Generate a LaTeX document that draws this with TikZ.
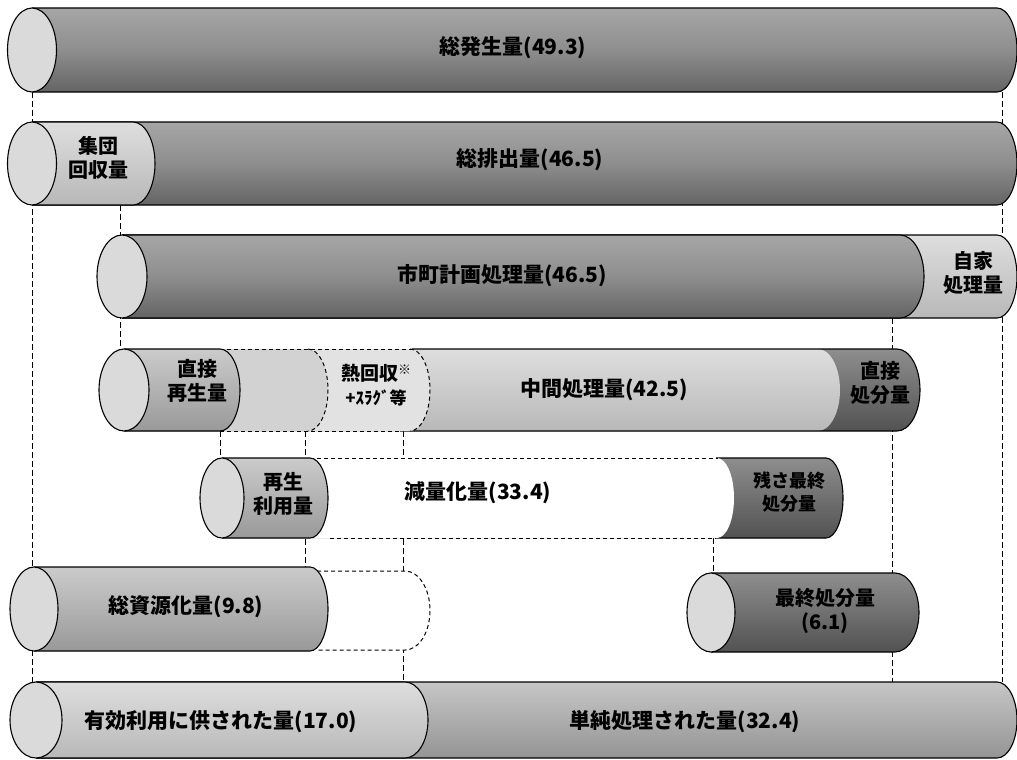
\documentclass[tikz,border=0pt]{standalone}
\usepackage{fontspec}
\setmainfont{Noto Sans CJK JP}
\definecolor{dkT}{HTML}{A6A6A6}
\definecolor{dkM}{HTML}{8E8E8E}
\definecolor{dkB}{HTML}{646464}
\definecolor{vdT}{HTML}{8E8E8E}
\definecolor{vdB}{HTML}{525252}
\definecolor{ltT}{HTML}{DEDEDE}
\definecolor{ltB}{HTML}{B8B8B8}
\definecolor{mdT}{HTML}{CBCBCB}
\definecolor{mdB}{HTML}{999999}
\definecolor{smT}{HTML}{C6C6C6}
\definecolor{smB}{HTML}{949494}
\definecolor{capC}{HTML}{DADADA}
\definecolor{dshC}{HTML}{D2D2D2}
\definecolor{heatC}{HTML}{E2E2E2}
\tikzset{
  outl/.style={draw=black, line width=1.1pt},
  dashl/.style={draw=black, line width=1pt, dash pattern=on 4pt off 3pt},
  guide/.style={draw=black, line width=1pt, dash pattern=on 6pt off 3pt},
  darkfill/.style={top color=dkT, bottom color=dkB, middle color=dkM},
  vdarkfill/.style={top color=vdT, bottom color=vdB},
  lightfill/.style={top color=ltT, bottom color=ltB},
  medfill/.style={top color=mdT, bottom color=mdB},
  simplefill/.style={top color=smT, bottom color=smB},
  capfill/.style={fill=capC, draw=black, line width=1.1pt},
  lbl/.style={font=\fontsize{21}{25}\selectfont\bfseries, inner sep=0pt},
  lbltwo/.style={font=\fontsize{20}{24}\selectfont\bfseries, align=center, inner sep=0pt},
}
% segment fill: #1 style, #2 xL, #3 xR, #4 top, #5 bottom, #6 cap x radius
\newcommand\cylfill[6]{%
  \pgfmathsetmacro\cylry{(#5-#4)/2}%
  \path[#1] (#2,#4) -- (#3,#4) arc[start angle=90,end angle=-90,x radius=#6pt,y radius=\cylry pt] -- (#2,#5) -- cycle;}
% segment outline: #1 style, #2 xL, #3 xR, #4 top, #5 bottom, #6 cap x radius
\newcommand\cylrim[6]{%
  \pgfmathsetmacro\cylry{(#5-#4)/2}%
  \draw[#1] (#2,#4) -- (#3,#4) arc[start angle=90,end angle=-90,x radius=#6pt,y radius=\cylry pt] -- (#2,#5);}
% cap arc only
\newcommand\cylarc[5]{%
  \pgfmathsetmacro\cylry{(#4-#3)/2}%
  \draw[#1] (#2,#3) arc[start angle=90,end angle=-90,x radius=#5pt,y radius=\cylry pt];}
\begin{document}
\begin{tikzpicture}[x=1pt,y=-1pt]
\useasboundingbox (0,0) rectangle (1017,760);
\fill[white] (0,0) rectangle (1017,760);

% ---- dashed guide lines (behind) ----
\coordinate (gA1) at (32,92);   \coordinate (gA2) at (32,682);
\coordinate (gB1) at (1002,92); \coordinate (gB2) at (1002,682);
\coordinate (gC1) at (120,205); \coordinate (gC2) at (120,349);
\coordinate (gD1) at (892,318); \coordinate (gD2) at (892,682);
\coordinate (gE1) at (220,431); \coordinate (gE2) at (220,458);
\coordinate (gF1) at (305,431); \coordinate (gF2) at (305,569);
\coordinate (gG1) at (403,431); \coordinate (gG2) at (403,682);
\coordinate (gH1) at (713,538); \coordinate (gH2) at (713,573);
\foreach \a/\b in {gA1/gA2,gB1/gB2,gC1/gC2,gD1/gD2,gE1/gE2,gF1/gF2,gG1/gG2,gH1/gH2}
  \draw[guide] (\a) -- (\b);

% ---- row 1 ----
\cylfill{darkfill}{32}{997}{8}{92}{20}
\cylrim{outl}{32}{997}{8}{92}{20}
\draw[capfill] (32,50) ellipse[x radius=24.5pt,y radius=42pt];

% ---- row 2 ----
\cylfill{darkfill}{32}{997}{122}{205}{20}
\cylrim{outl}{32}{997}{122}{205}{20}
\cylfill{lightfill}{32}{133}{122}{205}{22}
\cylrim{outl}{32}{133}{122}{205}{22}
\draw[capfill] (32,163.5) ellipse[x radius=24.5pt,y radius=41.5pt];

% ---- row 3 ----
\cylfill{lightfill}{122}{997}{235}{318}{20}
\cylrim{outl}{122}{997}{235}{318}{20}
\cylfill{darkfill}{122}{900}{235}{318}{24}
\cylrim{outl}{122}{900}{235}{318}{24}
\draw[capfill] (122,276.5) ellipse[x radius=25pt,y radius=41.5pt];

% ---- row 4 ----
\cylfill{vdarkfill}{124}{897}{349}{431}{23}
\cylfill{lightfill}{124}{818}{349}{431}{22}
\draw[outl] (412,349) -- (897,349) arc[start angle=90,end angle=-90,x radius=23pt,y radius=41pt] -- (400,431);
\cylfill{fill=heatC}{124}{410}{349}{431}{20}
\cylfill{fill=dshC}{124}{308}{349}{431}{20}
\cylarc{dashl}{410}{349}{431}{20}
\cylarc{dashl}{308}{349}{431}{20}
\draw[dashl] (220,349) -- (412,349);
\draw[dashl] (220,431) -- (400,431);
\cylfill{medfill}{124}{220}{349}{431}{20}
\cylrim{outl}{124}{220}{349}{431}{20}
\draw[capfill] (124,390) ellipse[x radius=25pt,y radius=41pt];

% ---- row 5 ----
\cylfill{vdarkfill}{222}{826}{458}{538}{17}
\draw[outl] (716,458) -- (826,458) arc[start angle=90,end angle=-90,x radius=17pt,y radius=40pt] -- (716,538);
\cylfill{fill=white}{222}{717}{458}{538}{17}
\draw[dashl] (310,458) -- (718,458);
\draw[dashl] (330,538) -- (716,538);
\cylfill{medfill}{222}{310}{458}{538}{18}
\cylrim{outl}{222}{310}{458}{538}{18}
\draw[capfill] (222,498) ellipse[x radius=22pt,y radius=40pt];

% ---- row 6 ----
\cylfill{fill=white}{34}{405}{571}{650}{25}
\draw[dashl] (310,571) -- (405,571) arc[start angle=90,end angle=-90,x radius=25pt,y radius=39.5pt] -- (318,650);
\cylfill{medfill}{34}{310}{567}{651}{18}
\cylrim{outl}{34}{310}{567}{651}{18}
\draw[capfill] (34,609) ellipse[x radius=24pt,y radius=42pt];

\cylfill{vdarkfill}{711}{895}{573}{652}{24}
\cylrim{outl}{711}{895}{573}{652}{24}
\draw[capfill] (711,612.5) ellipse[x radius=24pt,y radius=39.5pt];

% ---- row 7 ----
\cylfill{simplefill}{36}{997}{682}{758}{20}
\cylrim{outl}{36}{997}{682}{758}{20}
\cylfill{lightfill}{36}{405}{682}{758}{23}
\cylrim{outl}{36}{405}{682}{758}{23}
\draw[capfill] (36,720) ellipse[x radius=26pt,y radius=38pt];

% ---- labels ----
\node[lbl] (t1) at (513,48) {総発生量(49.3)};
\node[lbl] (t2) at (530,160) {総排出量(46.5)};
\node[lbltwo] (t2b) at (98,158) {集団\\回収量};
\node[lbl] (t3) at (502,276) {市町計画処理量(46.5)};
\node[lbltwo] (t3b) at (973,273) {自家\\処理量};
\node[lbltwo] (t4a) at (197,381) {直接\\再生量};
\node[lbltwo, font=\fontsize{19}{24}\selectfont\bfseries] (t4b) at (376,385) {熱回収\raisebox{0.55ex}{\fontsize{13}{13}\selectfont ※}\\{\fontsize{17}{20}\selectfont +ｽﾗｸﾞ等}};
\node[lbl] (t4c) at (604,390) {中間処理量(42.5)};
\node[lbltwo] (t4d) at (880,383) {直接\\処分量};
\node[lbltwo] (t5a) at (283,494) {再生\\利用量};
\node[lbl] (t5b) at (478,493) {減量化量(33.4)};
\node[lbltwo, font=\fontsize{18}{23}\selectfont\bfseries] (t5c) at (789,492) {残さ最終\\処分量};
\node[lbl] (t6a) at (186,607) {総資源化量(9.8)};
\node[lbltwo] (t6b) at (825,611) {最終処分量\\(6.1)};
\node[lbl] (t7a) at (221,722) {有効利用に供された量(17.0)};
\node[lbl] (t7b) at (685,722) {単純処理された量(32.4)};
\end{tikzpicture}
\end{document}
